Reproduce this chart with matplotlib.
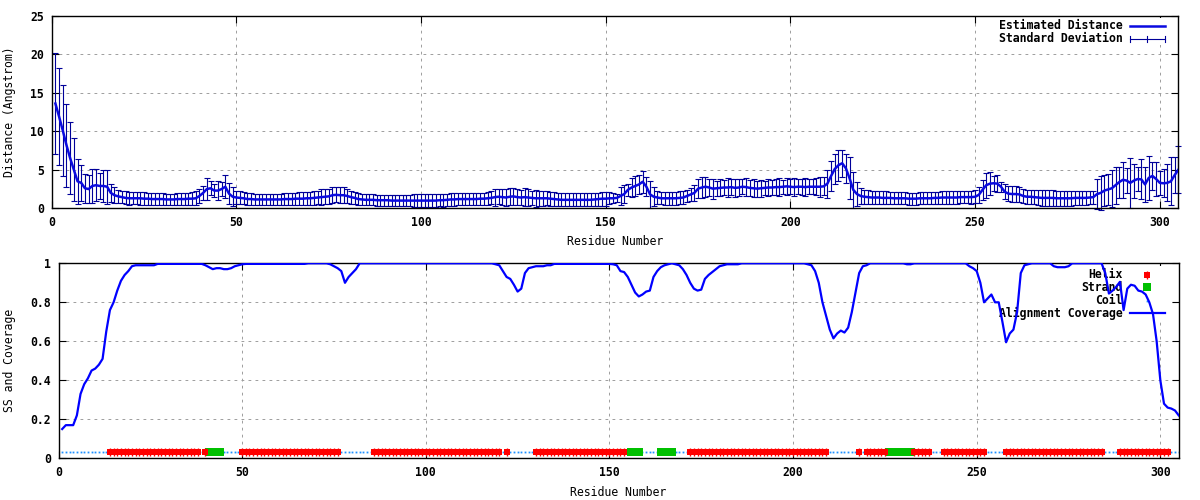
import numpy as np
import matplotlib
matplotlib.use('Agg')
import matplotlib.pyplot as plt
from matplotlib.patches import Rectangle
from matplotlib.lines import Line2D

plt.rcParams['font.family'] = ['DejaVu Sans Mono', 'DejaVu Sans']
plt.rcParams['font.weight'] = 'bold'
plt.rcParams['font.size'] = 8.3

# ---- data (residue 1..305) ----
distance = [
    13.6, 11.9, 10.1, 8.2, 6.5, 5.0, 3.5, 3.3, 2.6, 2.5, 2.9, 3.0, 2.9, 2.9, 2.8, 2.0, 1.7, 1.55, 1.45,
    1.35, 1.3, 1.3, 1.3, 1.3, 1.25, 1.25, 1.2, 1.2, 1.2, 1.2, 1.15, 1.15, 1.15, 1.2, 1.2, 1.2, 1.25, 1.25, 1.3,
    1.6, 2.0, 2.5, 2.6, 2.3, 2.3, 2.5, 2.8, 1.9, 1.5, 1.4,
    1.35, 1.3, 1.2, 1.2, 1.15, 1.15, 1.15, 1.15, 1.15, 1.15, 1.15, 1.15, 1.2, 1.2, 1.2, 1.25, 1.25, 1.25, 1.3, 1.3, 1.35, 1.4,
    1.45, 1.5, 1.55, 1.7, 1.75, 1.7, 1.7, 1.6, 1.45, 1.35,
    1.2, 1.15, 1.1, 1.1, 1.1, 1.05, 1.05, 1.05, 1.05, 1.0, 1.0, 1.0, 1.0, 1.0, 1.0, 1.0, 1.0, 1.0, 1.0, 1.0, 1.0, 1.0, 1.05, 1.05, 1.1,
    1.15, 1.15, 1.2, 1.2, 1.2, 1.2, 1.2, 1.2, 1.25, 1.25, 1.3, 1.35,
    1.45, 1.5, 1.45, 1.4, 1.5, 1.55, 1.45, 1.4, 1.45, 1.4,
    1.35, 1.3, 1.3, 1.3, 1.3, 1.25, 1.2, 1.15,
    1.1, 1.1, 1.1, 1.1, 1.1, 1.1, 1.1, 1.1, 1.1, 1.15, 1.2, 1.25, 1.25,
    1.3, 1.3, 1.35, 1.6, 1.85, 2.4, 2.7, 2.9, 3.1, 3.45, 2.8, 1.8, 1.5, 1.4, 1.3,
    1.3, 1.3, 1.3, 1.3, 1.35, 1.4, 1.6, 1.8, 2.0, 2.55, 2.7, 2.8, 2.7, 2.55, 2.6,
    2.65, 2.7, 2.7, 2.75, 2.65, 2.7, 2.8, 2.75, 2.65, 2.6, 2.55, 2.6, 2.65, 2.7, 2.7, 2.75, 2.75, 2.8, 2.85, 2.8,
    2.75, 2.8, 2.8, 2.75, 2.8, 2.8, 2.8, 2.8, 2.85,
    3.2, 4.2, 5.1, 5.6, 5.85, 5.2, 3.9, 2.4, 1.85, 1.6, 1.5,
    1.45, 1.4, 1.4, 1.4, 1.35, 1.35, 1.35, 1.3, 1.3, 1.3, 1.3, 1.25, 1.25, 1.25, 1.3, 1.3, 1.3, 1.3, 1.35, 1.35,
    1.4, 1.4, 1.4, 1.4, 1.4, 1.45, 1.45, 1.45, 1.45, 1.5,
    1.75, 2.4, 3.0, 3.2, 3.25, 3.2, 2.8, 2.15, 1.9, 1.85, 1.85, 1.8, 1.6, 1.5, 1.5, 1.45,
    1.4, 1.35, 1.35, 1.35, 1.35, 1.3, 1.3, 1.3, 1.3, 1.3, 1.35, 1.35, 1.35, 1.35, 1.4, 1.45, 1.85,
    2.0, 2.3, 2.45, 2.6, 3.0, 3.4, 3.7, 3.6, 3.3, 3.6, 3.8, 3.75, 3.1, 3.95, 4.2, 3.8, 3.3, 3.25, 3.3, 3.5, 4.3, 5.0,
]
distance_sd = [
    6.6, 6.3, 5.9, 5.4, 4.7, 4.1, 2.9, 2.3, 1.85, 1.8, 2.2, 2.1, 1.7, 2.1, 2.2, 1.2, 1.0, 0.8, 0.8,
    0.85, 0.85, 0.8, 0.8, 0.85, 0.85, 0.8, 0.8, 0.8, 0.8, 0.75, 0.75, 0.7, 0.75, 0.8, 0.8, 0.8, 0.8, 0.85, 0.9,
    0.9, 0.9, 1.4, 0.9, 0.8, 1.2, 0.9, 1.5, 1.4, 1.2, 0.9,
    0.85, 0.8, 0.75, 0.75, 0.75, 0.7, 0.7, 0.7, 0.7, 0.75, 0.75, 0.75, 0.8, 0.8, 0.8, 0.8, 0.85, 0.85, 0.85, 0.85, 0.9, 0.9,
    1.0, 0.95, 0.95, 1.0, 0.95, 1.0, 1.0, 0.95, 0.85, 0.8,
    0.75, 0.7, 0.7, 0.7, 0.7, 0.7, 0.7, 0.7, 0.7, 0.7, 0.7, 0.7, 0.75, 0.75, 0.75, 0.8, 0.8, 0.8, 0.8, 0.8, 0.8, 0.8, 0.8, 0.85, 0.8,
    0.8, 0.8, 0.8, 0.8, 0.8, 0.8, 0.8, 0.8, 0.8, 0.8, 0.85, 0.85,
    1.1, 1.0, 1.0, 1.1, 1.1, 1.1, 1.0, 1.0, 1.2, 1.1,
    0.95, 1.1, 1.0, 0.95, 0.9, 0.9, 0.9, 0.85,
    0.85, 0.85, 0.85, 0.85, 0.85, 0.85, 0.85, 0.85, 0.85, 0.85, 0.85, 0.9, 0.9,
    0.8, 0.65, 0.55, 1.2, 1.15, 0.8, 1.2, 1.3, 1.2, 1.45, 1.2, 1.8, 1.2, 0.9, 0.8,
    0.85, 0.85, 0.85, 0.85, 0.85, 0.8, 0.8, 0.8, 1.0, 1.25, 1.3, 1.3, 1.1, 1.3, 1.0,
    1.1, 0.95, 1.2, 1.05, 1.15, 1.1, 0.95, 1.2, 1.0, 1.15, 1.05, 1.1, 0.95, 1.15, 1.0, 1.05, 1.2, 0.9, 1.1, 1.0,
    1.15, 1.0, 1.05, 1.2, 1.0, 1.0, 1.1, 1.3, 1.15,
    1.8, 2.0, 2.0, 2.0, 1.75, 1.9, 2.7, 2.3, 1.6, 1.0, 0.9,
    0.9, 0.85, 0.85, 0.85, 0.85, 0.85, 0.8, 0.8, 0.8, 0.8, 0.8, 0.8, 0.8, 0.8, 0.8, 0.8, 0.8, 0.8, 0.8, 0.8,
    0.8, 0.8, 0.8, 0.8, 0.8, 0.8, 0.8, 0.8, 0.85, 0.85,
    1.0, 1.3, 1.6, 1.5, 1.0, 1.1, 0.65, 0.95, 1.0, 1.0, 1.05, 1.0, 0.9, 0.9, 0.9, 0.95,
    1.0, 1.0, 1.0, 1.0, 1.0, 1.0, 1.0, 1.0, 1.0, 1.0, 0.95, 0.95, 0.95, 0.95, 0.9, 0.85, 2.0,
    2.2, 2.0, 2.0, 2.4, 2.4, 2.0, 2.3, 1.6, 3.2, 2.2, 1.6, 2.6, 2.3, 2.9, 1.8, 2.2, 1.6, 1.8, 2.4, 3.1, 2.3, 3.05,
]
coverage = [
    0.15, 0.17, 0.17, 0.17, 0.22, 0.33, 0.38, 0.41, 0.45, 0.46,
    0.48, 0.51, 0.65, 0.76, 0.80, 0.86, 0.91, 0.94, 0.96, 0.985,
    0.99, 0.99, 0.99, 0.99, 0.99, 0.99, 0.997, 0.997, 0.997, 0.997,
    0.997, 0.997, 0.997, 0.997, 0.997, 0.997, 0.997, 0.997, 0.997, 0.99,
    0.98, 0.97, 0.975, 0.975, 0.97, 0.97, 0.975, 0.985, 0.99, 0.995,
    0.997, 0.997, 0.997, 0.997, 0.997, 0.997, 0.997, 0.997, 0.997, 0.997,
    0.997, 0.997, 0.997, 0.997, 0.997, 0.997, 0.997, 1.0, 1.0, 1.0,
    1.0, 1.0, 1.0, 0.995, 0.985, 0.975, 0.96, 0.90, 0.93, 0.95,
    0.97, 1.0, 1.0, 1.0, 1.0, 1.0, 1.0, 1.0, 1.0, 1.0,
    1.0, 1.0, 1.0, 1.0, 1.0, 1.0, 1.0, 1.0, 1.0, 1.0,
    1.0, 1.0, 1.0, 1.0, 1.0, 1.0, 1.0, 1.0, 1.0, 1.0,
    1.0, 1.0, 1.0, 1.0, 1.0, 1.0, 1.0, 1.0, 0.995, 0.99,
    0.96, 0.93, 0.92, 0.89, 0.855, 0.87, 0.95, 0.975, 0.98, 0.985,
    0.985, 0.985, 0.99, 0.99, 0.997, 0.997, 0.997, 0.997, 0.997, 0.997,
    0.997, 0.997, 0.997, 0.997, 0.997, 0.997, 0.997, 0.997, 0.997, 0.997,
    0.995, 0.99, 0.96, 0.955, 0.93, 0.89, 0.85, 0.83, 0.84, 0.855,
    0.86, 0.93, 0.96, 0.98, 0.99, 0.995, 1.0, 0.995, 0.99, 0.97,
    0.94, 0.90, 0.87, 0.86, 0.865, 0.92, 0.94, 0.955, 0.97, 0.985,
    0.99, 0.995, 0.995, 0.995, 0.995, 1.0, 1.0, 1.0, 1.0, 1.0,
    1.0, 1.0, 1.0, 1.0, 1.0, 1.0, 1.0, 1.0, 1.0, 1.0,
    1.0, 1.0, 1.0, 0.995, 0.99, 0.96, 0.90, 0.80, 0.73, 0.66,
    0.615, 0.64, 0.655, 0.645, 0.67, 0.75, 0.85, 0.95, 0.985, 0.99,
    1.0, 1.0, 1.0, 1.0, 1.0, 1.0, 1.0, 1.0, 1.0, 1.0,
    0.995, 0.995, 1.0, 1.0, 1.0, 1.0, 1.0, 1.0, 1.0, 1.0,
    1.0, 1.0, 1.0, 1.0, 1.0, 1.0, 1.0, 0.985, 0.975, 0.96,
    0.90, 0.80, 0.82, 0.84, 0.80, 0.80, 0.70, 0.595, 0.64, 0.66,
    0.75, 0.95, 0.99, 0.995, 1.0, 1.0, 1.0, 1.0, 1.0, 1.0,
    0.985, 0.98, 0.98, 0.98, 0.985, 1.0, 1.0, 1.0, 1.0, 1.0,
    1.0, 1.0, 1.0, 1.0, 0.95, 0.845, 0.86, 0.88, 0.905, 0.76,
    0.87, 0.89, 0.885, 0.86, 0.855, 0.84, 0.80, 0.74, 0.60, 0.40,
    0.28, 0.26, 0.255, 0.245, 0.22,
]
helix_ranges = [(14, 38), (40, 40), (50, 76), (86, 120), (122, 122), (130, 154),
                (172, 209), (218, 218), (220, 225), (233, 237), (241, 252),
                (258, 284), (289, 302)]
strand_ranges = [(41, 44), (156, 158), (164, 167), (226, 232)]

x_ticks = [0, 50, 100, 150, 200, 250, 300]
dist_ticks = [0, 5, 10, 15, 20, 25]
cov_ticks = [0, 0.2, 0.4, 0.6, 0.8, 1]
cov_labels = ['0', '0.2', '0.4', '0.6', '0.8', '1']

W, H = 1200, 500
res = np.arange(1, len(distance) + 1)
res_cov = np.arange(1, len(coverage) + 1)
n_res = len(coverage)


def expand(ranges):
    return np.concatenate([np.arange(a, b + 1) for a, b in ranges])


helix = expand(helix_ranges)
strand = expand(strand_ranges)
coil = np.array([r for r in range(1, n_res + 1) if r not in set(helix) | set(strand)])

fig = plt.figure(figsize=(12, 5), dpi=100)
ax1 = fig.add_axes([51.7 / W, 1 - 208.3 / H, 1126.6 / W, 192.6 / H])
ax2 = fig.add_axes([58.5 / W, 1 - 458.3 / H, 1120.2 / W, 195.0 / H])


def style(ax):
    ax.tick_params(direction='in', top=True, right=True, length=5, width=0.8,
                   pad=5.5, labelsize=8.3)
    ax.grid(True, color='#a0a0a0', lw=0.72, linestyle=(0, (2.8, 4.2)))
    ax.set_axisbelow(True)
    for s in ax.spines.values():
        s.set_linewidth(1.0)


def to_ax(ax, x, y):
    # reference pixel position -> axes fraction
    d = fig.transFigure.transform((x / W, 1 - y / H))
    return ax.transAxes.inverted().transform(d)


# ---- top panel: distance ----
style(ax1)
ax1.errorbar(res, distance, yerr=distance_sd, fmt='none', ecolor='#000099',
             elinewidth=0.8, capsize=2.0, capthick=0.8, clip_on=False, zorder=2)
ax1.plot(res, distance, color='#0a0ae0', lw=1.8, zorder=3)
ax1.set_xlim(0, 305)
ax1.set_ylim(0, 25)
ax1.set_xticks(x_ticks)
ax1.set_yticks(dist_ticks)
ax1.set_xlabel('Residue Number')
ax1.set_ylabel('Distance (Angstrom)')
ax1.xaxis.set_label_coords(0.5, (208.3 - 235) / 192.6)
ax1.yaxis.set_label_coords((16 - 51.7) / 1126.6, 0.5)

(x0, y0), (x1, y1) = to_ax(ax1, 994, 45), to_ax(ax1, 1170, 18)
ax1.add_patch(Rectangle((x0, y0), x1 - x0, y1 - y0, transform=ax1.transAxes,
                        facecolor='white', edgecolor='none', zorder=1))
tx, ty = to_ax(ax1, 1123, 25.7)
ax1.text(tx, ty, 'Estimated Distance', transform=ax1.transAxes, ha='right', va='center', zorder=1.5)
tx, ty2 = to_ax(ax1, 1123, 38.7)
ax1.text(tx, ty2, 'Standard Deviation', transform=ax1.transAxes, ha='right', va='center', zorder=1.5)
la, _ = to_ax(ax1, 1130, 0)
lb, _ = to_ax(ax1, 1165, 0)
lm, _ = to_ax(ax1, 1147.3, 0)
ax1.add_line(Line2D([la, lb], [ty, ty], transform=ax1.transAxes, color='#0a0ae0', lw=1.8))
ax1.add_line(Line2D([la, lb], [ty2, ty2], transform=ax1.transAxes, color='#000099', lw=0.8))
_, t_up = to_ax(ax1, 0, 35.7)
_, t_dn = to_ax(ax1, 0, 41.7)
for xx in (la, lb, lm):
    ax1.add_line(Line2D([xx, xx], [t_dn, t_up], transform=ax1.transAxes, color='#000099', lw=0.8))

# ---- bottom panel: secondary structure and coverage ----
style(ax2)
ss_level = 0.03
ax2.plot(coil, np.full(len(coil), ss_level), 's', ms=1.3, mew=0, color='#1e90ff', zorder=2)
ax2.plot(strand, np.full(len(strand), ss_level), 's', ms=5.2, mew=0, color='#00c000', zorder=2.2)
ax2.plot(helix, np.full(len(helix), ss_level), 's', ms=3.8, mew=0, color='#ff0000', zorder=2.3)
ax2.plot(helix, np.full(len(helix), ss_level), '|', ms=5.2, mew=1.0, color='#ff0000', zorder=2.3)
ax2.plot(res_cov, coverage, color='#0000ff', lw=1.6, zorder=3)
ax2.set_xlim(0, 305)
ax2.set_ylim(0, 1)
ax2.set_xticks(x_ticks)
ax2.set_yticks(cov_ticks)
ax2.set_yticklabels(cov_labels)
ax2.set_xlabel('Residue Number')
ax2.set_ylabel('SS and Coverage', fontweight='normal')
ax2.xaxis.set_label_coords(0.5, (458.3 - 485.5) / 195.0)
ax2.yaxis.set_label_coords((16 - 58.5) / 1120.2, 0.5)

(x0, y0), (x1, y1) = to_ax(ax2, 995, 320), to_ax(ax2, 1170, 266)
ax2.add_patch(Rectangle((x0, y0), x1 - x0, y1 - y0, transform=ax2.transAxes,
                        facecolor='white', edgecolor='none', zorder=1))
rows = [('Helix', 275), ('Strand', 287.7), ('Coil', 300.7), ('Alignment Coverage', 313.3)]
for label, ypx in rows:
    tx, ty = to_ax(ax2, 1123, ypx)
    ax2.text(tx, ty, label, transform=ax2.transAxes, ha='right', va='center', zorder=1.5)
mx, my = to_ax(ax2, 1147.3, 274.5)
ax2.plot([mx], [my], 's', ms=3.8, mew=0, color='#ff0000', transform=ax2.transAxes, clip_on=False)
ax2.plot([mx], [my], '|', ms=5.2, mew=1.0, color='#ff0000', transform=ax2.transAxes, clip_on=False)
mx, my = to_ax(ax2, 1147.3, 287.5)
ax2.plot([mx], [my], 's', ms=5.2, mew=0, color='#00c000', transform=ax2.transAxes, clip_on=False)
mx, my = to_ax(ax2, 1147.3, 300.7)
ax2.plot([mx], [my], 's', ms=1.3, mew=0, color='#1e90ff', transform=ax2.transAxes, clip_on=False)
la, ly = to_ax(ax2, 1130, 312.7)
lb, _ = to_ax(ax2, 1165, 312.7)
ax2.add_line(Line2D([la, lb], [ly, ly], transform=ax2.transAxes, color='#0000ff', lw=1.6))

fig.savefig('out.png', dpi=100)
